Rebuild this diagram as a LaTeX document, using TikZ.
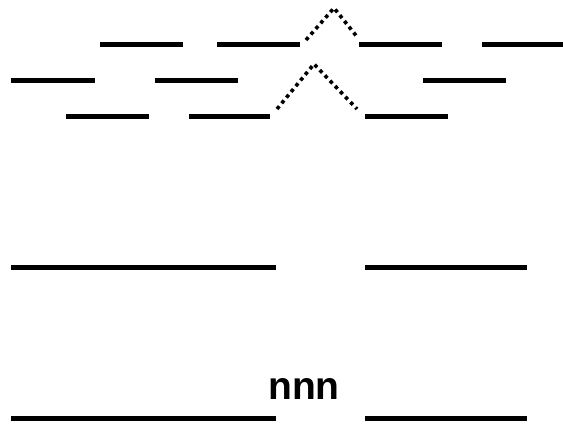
\documentclass[tikz,border=0pt]{standalone}
\usepackage{fontspec}
\setmainfont{Liberation Sans}
\begin{document}
\begin{tikzpicture}[x=1pt,y=-1pt,
  bar/.style={line width=5pt,line cap=butt},
  dots/.style={line width=3.6pt,dash pattern=on 3.6pt off 3.8pt,line cap=butt},
  lbl/.style={font=\bfseries\fontsize{39}{39}\selectfont,inner sep=0pt,anchor=base}]
\useasboundingbox[fill=white] (0,0) rectangle (563,425);
% row 1
\draw[bar] (100,45) -- (183,45);
\draw[bar] (217,45) -- (300,45);
\draw[bar] (359,45) -- (442,45);
\draw[bar] (482,45) -- (563,45);
% row 2
\draw[bar] (11,81) -- (95,81);
\draw[bar] (155,81) -- (238,81);
\draw[bar] (423,81) -- (506,81);
% row 3
\draw[bar] (66,117) -- (149,117);
\draw[bar] (189,117) -- (270,117);
\draw[bar] (365,117) -- (448,117);
% dotted peaks
\draw[dots] (306,40) -- (334,8) -- (358,38);
\draw[dots] (277,109) -- (314,64) -- (357,109);
% row 4
\draw[bar] (11,268) -- (276,268);
\draw[bar] (365,268) -- (527,268);
% label and row 5
\node[lbl] (nnn) at (304,399) {nnn};
\draw[bar] (11,418) -- (276,418);
\draw[bar] (365,418) -- (527,418);
\end{tikzpicture}
\end{document}
